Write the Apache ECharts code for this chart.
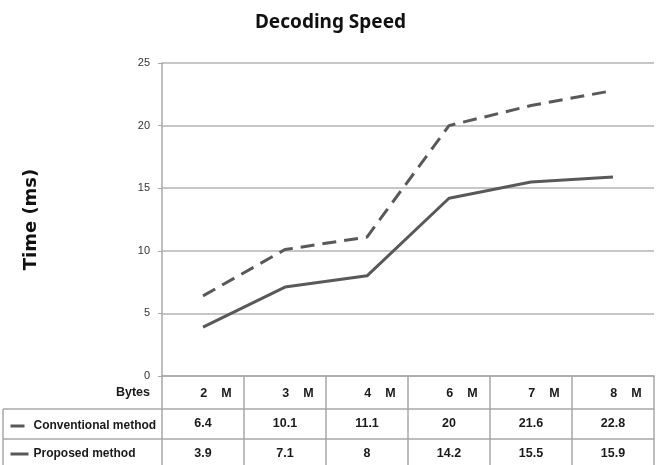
<!DOCTYPE html>
<html>
<head>
<meta charset="utf-8">
<script src="https://cdn.jsdelivr.net/npm/echarts@6/dist/echarts.min.js"></script>
<style>
  html, body { margin: 0; padding: 0; background: #fff; }
  #chart { width: 661px; height: 465px; }
</style>
</head>
<body>
<div id="chart"></div>
<script>
const categories = ["2", "3", "4", "6", "7", "8"];
const conventional = [6.4, 10.1, 11.1, 20, 21.6, 22.8];
const proposed = [3.9, 7.1, 8, 14.2, 15.5, 15.9];
const yTicks = { min: 0, max: 25, interval: 5 };

const lineColor = "#595959";
const borderColor = "#a8a8a8";
const tableFont = "'Liberation Sans Narrow', 'Arial Narrow', 'Liberation Sans', sans-serif";

// grid matches the plot box, the table sits under it
const gridLeft = 162, gridRight = 7, gridTop = 63, gridBottom = 89;

const chart = echarts.init(document.getElementById("chart"));

function rowAxis(values, offset, margin) {
  return {
    type: "category",
    position: "bottom",
    offset: offset,
    data: values.map(v => String(v)),
    axisLine: { show: true, lineStyle: { color: borderColor, width: 1.5 } },
    axisTick: { show: false },
    axisLabel: {
      margin: margin,
      color: "#1a1a1a",
      fontWeight: "bold",
      fontSize: 12.5,
      fontFamily: tableFont
    },
    splitLine: { show: false }
  };
}

chart.setOption({
  animation: false,
  title: {
    text: "Decoding Speed",
    left: "center",
    top: 8,
    textStyle: {
      fontSize: 19,
      fontWeight: "bold",
      color: "#111",
      fontFamily: "'Noto Sans', sans-serif"
    }
  },
  legend: {
    orient: "vertical",
    left: 4,
    top: 415,
    itemGap: 16,
    itemWidth: 18,
    itemHeight: 14,
    itemStyle: { opacity: 0 },
    lineStyle: { width: 3 },
    textStyle: {
      fontSize: 12,
      fontWeight: "bold",
      color: "#1a1a1a",
      fontFamily: tableFont
    },
    data: ["Conventional method", "Proposed method"]
  },
  grid: {
    left: gridLeft,
    right: gridRight,
    top: gridTop,
    bottom: gridBottom,
    containLabel: false
  },
  xAxis: [
    {
      type: "category",
      data: categories.map(c => c + "    M"),
      boundaryGap: true,
      axisLine: { show: true, lineStyle: { color: borderColor, width: 1.5 } },
      axisTick: {
        show: true,
        length: 95,
        lineStyle: { color: borderColor, width: 1.5 }
      },
      axisLabel: {
        margin: 11,
        padding: [0, 0, 0, 26],
        color: "#1a1a1a",
        fontWeight: "bold",
        fontSize: 12.5,
        fontFamily: tableFont
      }
    },
    rowAxis(conventional, 33, 8),
    rowAxis(proposed, 63, 8)
  ],
  yAxis: {
    type: "value",
    min: yTicks.min,
    max: yTicks.max,
    interval: yTicks.interval,
    name: "Time (ms)",
    nameLocation: "middle",
    nameGap: 122,
    nameTextStyle: {
      fontSize: 18,
      fontWeight: "bold",
      color: "#111",
      fontFamily: "'DejaVu Sans', sans-serif"
    },
    axisLine: { show: true, lineStyle: { color: borderColor, width: 1.5 } },
    axisTick: { show: true, length: 4, lineStyle: { color: borderColor } },
    axisLabel: {
      margin: 12,
      fontSize: 11,
      color: "#333",
      fontFamily: tableFont
    },
    splitLine: { lineStyle: { color: "#b4b4b4", width: 1.5 } }
  },
  graphic: [
    {
      type: "text",
      x: 150,
      y: 393,
      style: {
        text: "Bytes",
        align: "right",
        verticalAlign: "middle",
        fontSize: 12.5,
        fontWeight: "bold",
        fill: "#1a1a1a",
        fontFamily: tableFont
      }
    },
    {
      type: "line",
      shape: { x1: 3, y1: 409, x2: gridLeft, y2: 409 },
      style: { stroke: borderColor, lineWidth: 1.5 }
    },
    {
      type: "line",
      shape: { x1: 3, y1: 439, x2: gridLeft, y2: 439 },
      style: { stroke: borderColor, lineWidth: 1.5 }
    },
    {
      type: "line",
      shape: { x1: 3, y1: 409, x2: 3, y2: 470 },
      style: { stroke: borderColor, lineWidth: 1.5 }
    }
  ],
  series: [
    {
      name: "Conventional method",
      type: "line",
      data: conventional,
      symbol: "none",
      lineStyle: { color: lineColor, width: 3, type: [14, 8] },
      itemStyle: { color: lineColor }
    },
    {
      name: "Proposed method",
      type: "line",
      data: proposed,
      symbol: "none",
      lineStyle: { color: lineColor, width: 3 },
      itemStyle: { color: lineColor }
    }
  ]
});
</script>
</body>
</html>
